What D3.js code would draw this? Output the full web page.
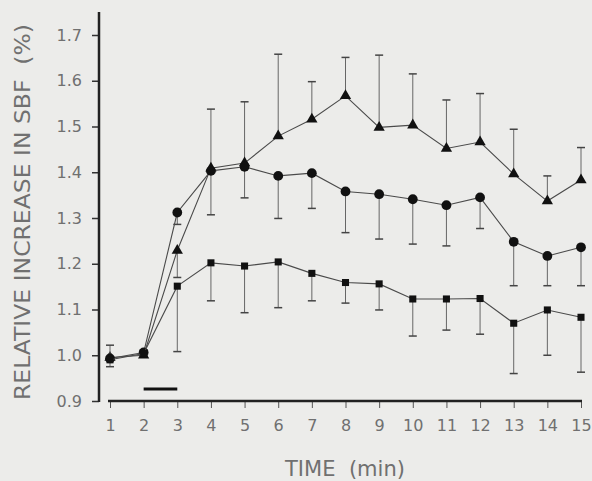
<!DOCTYPE html>
<html lang="en">
<head>
    <meta charset="UTF-8">
    <script src="https://d3js.org/d3.v7.min.js"></script>
    <style>
        body {margin: 0; background-color: #ececea;}
        svg {display: block;}
        text {font-family: "DejaVu Sans", sans-serif; fill: #707070;}
    </style>
</head>
<body>
<svg class="chart"></svg>
<script type="text/javascript">
    // time points (min)
    let minutes = [1, 2, 3, 4, 5, 6, 7, 8, 9, 10, 11, 12, 13, 14, 15];
    let y_ticks = [0.9, 1.0, 1.1, 1.2, 1.3, 1.4, 1.5, 1.6, 1.7];

    // triangles, mean and error bar end
    let tri_mean = [0.995, 1.0, 1.229, 1.409, 1.42, 1.479, 1.516, 1.567, 1.498, 1.503, 1.452, 1.466, 1.396, 1.337, 1.383];
    let tri_err  = [0.995, 1.0, 1.17, 1.538, 1.554, 1.658, 1.598, 1.651, 1.656, 1.615, 1.558, 1.572, 1.494, 1.392, 1.454];

    // circles
    let circ_mean = [0.993, 1.006, 1.312, 1.403, 1.412, 1.392, 1.398, 1.358, 1.352, 1.341, 1.328, 1.345, 1.248, 1.217, 1.236];
    let circ_err  = [1.022, 1.012, 1.286, 1.307, 1.344, 1.299, 1.321, 1.268, 1.254, 1.243, 1.239, 1.277, 1.152, 1.152, 1.152];

    // squares
    let sq_mean = [0.99, 1.004, 1.151, 1.202, 1.195, 1.204, 1.179, 1.159, 1.156, 1.123, 1.123, 1.124, 1.07, 1.099, 1.083];
    let sq_err  = [0.975, 1.0, 1.008, 1.119, 1.093, 1.104, 1.119, 1.114, 1.099, 1.042, 1.055, 1.046, 0.96, 1.0, 0.963];

    // stimulus period
    let stimulus = [2, 3];

    let width = 592, height = 481;
    let svg = d3.select('.chart').attr('width', width).attr('height', height);

    let x_range = d3.scaleLinear().domain([1, 15]).range([110, 581]);
    let y_range = d3.scaleLinear().domain([0.9, 1.7]).range([401, 35]);

    // y axis
    let y_axis = svg.append('g').attr('transform', 'translate(99,0)')
        .call(d3.axisLeft(y_range).tickValues(y_ticks).tickSize(7).tickPadding(10)
            .tickFormat(d3.format('.1f')));
    y_axis.select('.domain').remove();
    y_axis.selectAll('line').attr('stroke', '#333').attr('stroke-width', 1.5);
    y_axis.selectAll('text').attr('font-size', 16).attr('fill', '#707070').attr('font-family', 'DejaVu Sans');
    svg.append('line').attr('x1', 99).attr('x2', 99).attr('y1', 12).attr('y2', 402)
        .attr('stroke', '#222').attr('stroke-width', 2.5);

    // x axis
    let x_axis = svg.append('g').attr('transform', 'translate(0,401)')
        .call(d3.axisBottom(x_range).tickValues(minutes).tickSize(7).tickPadding(12));
    x_axis.select('.domain').remove();
    x_axis.selectAll('line').attr('stroke', '#555').attr('stroke-width', 1);
    x_axis.selectAll('text').attr('font-size', 16).attr('fill', '#707070').attr('font-family', 'DejaVu Sans');
    svg.append('line').attr('x1', 108).attr('x2', 582).attr('y1', 401).attr('y2', 401)
        .attr('stroke', '#222').attr('stroke-width', 2.5);

    // axis titles
    svg.append('text').attr('x', 345).attr('y', 476).attr('text-anchor', 'middle')
        .attr('font-size', 22).attr('textLength', 120).attr('lengthAdjust', 'spacingAndGlyphs')
        .style('white-space', 'pre').text('TIME  (min)');
    svg.append('text').attr('transform', 'translate(30,212) rotate(-90)').attr('text-anchor', 'middle')
        .attr('font-size', 21).attr('textLength', 376).attr('lengthAdjust', 'spacingAndGlyphs')
        .style('white-space', 'pre').text('RELATIVE INCREASE IN SBF  (%)');

    // stimulus bar
    svg.append('line').attr('x1', x_range(stimulus[0])).attr('x2', x_range(stimulus[1]))
        .attr('y1', 389).attr('y2', 389).attr('stroke', '#111').attr('stroke-width', 3);

    let series = [
        {mean: tri_mean, err: tri_err, shape: d3.symbolTriangle, size: 55},
        {mean: circ_mean, err: circ_err, shape: d3.symbolCircle, size: 75},
        {mean: sq_mean, err: sq_err, shape: d3.symbolSquare, size: 50}
    ];

    let line = d3.line().x(d => x_range(d.t)).y(d => y_range(d.v));

    series.forEach(s => {
        let pts = minutes.map((t, i) => ({t: t, v: s.mean[i], e: s.err[i]}));
        let g = svg.append('g');
        // error bars
        pts.forEach(p => {
            if (Math.abs(p.e - p.v) < 0.004) return;
            g.append('line').attr('x1', x_range(p.t)).attr('x2', x_range(p.t))
                .attr('y1', y_range(p.v)).attr('y2', y_range(p.e))
                .attr('stroke', '#666').attr('stroke-width', 1);
            g.append('line').attr('x1', x_range(p.t) - 4).attr('x2', x_range(p.t) + 4)
                .attr('y1', y_range(p.e)).attr('y2', y_range(p.e))
                .attr('stroke', '#444').attr('stroke-width', 1.5);
        });
        g.append('path').datum(pts).attr('d', line)
            .attr('fill', 'none').attr('stroke', '#4a4a4a').attr('stroke-width', 1.1);
        g.selectAll('.m').data(pts).enter().append('path')
            .attr('transform', d => 'translate(' + x_range(d.t) + ',' + y_range(d.v) + ')')
            .attr('d', d3.symbol().type(s.shape).size(s.size))
            .attr('fill', '#111');
    });
</script>
</body>
</html>
